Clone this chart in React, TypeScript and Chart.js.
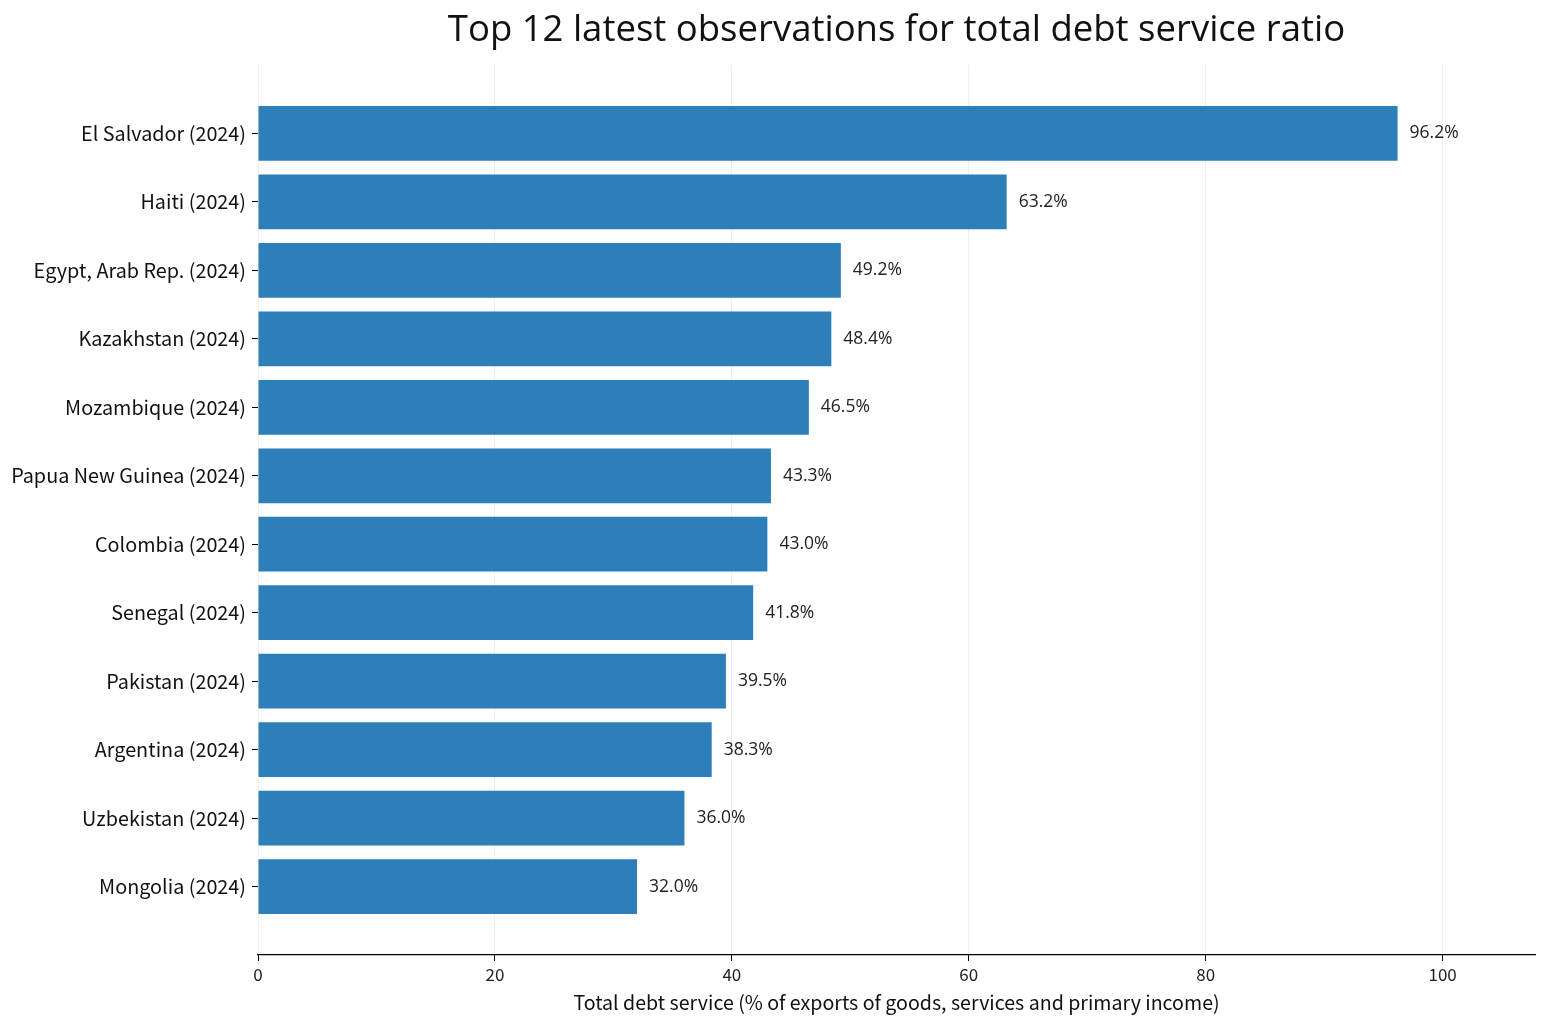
import React, { useEffect, useRef } from 'react'
import { Chart, registerables } from 'chart.js'

Chart.register(...registerables)

const countries = [
  'El Salvador (2024)',
  'Haiti (2024)',
  'Egypt, Arab Rep. (2024)',
  'Kazakhstan (2024)',
  'Mozambique (2024)',
  'Papua New Guinea (2024)',
  'Colombia (2024)',
  'Senegal (2024)',
  'Pakistan (2024)',
  'Argentina (2024)',
  'Uzbekistan (2024)',
  'Mongolia (2024)',
]
const debtService = [96.2, 63.2, 49.2, 48.4, 46.5, 43.3, 43.0, 41.8, 39.5, 38.3, 36.0, 32.0]
const xTicks = [0, 20, 40, 60, 80, 100]

const FONT = '"Noto Sans CJK KR", sans-serif'
const WIDE_FONT = '"Open Sans", sans-serif'

const valueLabels = {
  id: 'valueLabels',
  afterDatasetsDraw(chart: any) {
    const ctx = chart.ctx
    const meta = chart.getDatasetMeta(0)
    ctx.save()
    ctx.font = `17.5px ${WIDE_FONT}`
    ctx.fillStyle = '#222'
    ctx.textAlign = 'left'
    ctx.textBaseline = 'middle'
    meta.data.forEach((bar: any, i: number) => {
      ctx.fillText(debtService[i].toFixed(1) + '%', bar.x + 12, bar.y)
    })
    ctx.restore()
  },
}

const App: React.FC = () => {
  const canvasRef = useRef<HTMLCanvasElement>(null)
  const chartRef = useRef<Chart | null>(null)

  useEffect(() => {
    if (!canvasRef.current) return
    const ctx = canvasRef.current.getContext('2d')
    if (!ctx) return
    if (chartRef.current) chartRef.current.destroy()

    chartRef.current = new Chart(ctx, {
      type: 'bar',
      data: {
        datasets: [
          {
            data: debtService.map((v, i) => ({ x: v, y: i })),
            backgroundColor: '#2c7fb8',
            borderWidth: 0,
            barPercentage: 0.8,
            categoryPercentage: 1,
          },
        ],
      },
      options: {
        indexAxis: 'y',
        animation: false,
        responsive: true,
        maintainAspectRatio: false,
        layout: { padding: { left: 0, right: 12, top: 0, bottom: 0 } },
        plugins: {
          legend: { display: false },
          tooltip: { enabled: false },
          title: {
            display: true,
            text: 'Top 12 latest observations for total debt service ratio',
            fullSize: false,
            color: '#111',
            font: { family: WIDE_FONT, size: 36.5, weight: 'normal', lineHeight: 1.2 },
            padding: { top: 9, bottom: 12.2 },
          },
        },
        scales: {
          x: {
            type: 'linear',
            min: 0,
            max: 107.8,
            z: 1,
            afterBuildTicks: (scale: any) => {
              scale.ticks = xTicks.map(v => ({ value: v }))
            },
            afterFit: (scale: any) => {
              scale.height = 72
            },
            border: { display: true, color: '#000', width: 1.2 },
            grid: {
              color: 'rgba(176,176,176,0.2)',
              tickColor: '#000',
              tickLength: 6,
              lineWidth: 1,
            },
            ticks: {
              color: '#222',
              padding: 3,
              font: { family: FONT, size: 17 },
            },
            title: {
              display: true,
              text: 'Total debt service (% of exports of goods, services and primary income)',
              color: '#111',
              font: { family: FONT, size: 19.6 },
              padding: { top: 2, bottom: 13 },
            },
          },
          y: {
            type: 'linear',
            reverse: true,
            offset: false,
            min: -1,
            max: 12,
            afterBuildTicks: (scale: any) => {
              scale.ticks = countries.map((_, i) => ({ value: i }))
            },
            afterFit: (scale: any) => {
              scale.width = 258
            },
            border: { display: false },
            grid: {
              offset: false,
              drawOnChartArea: false,
              drawTicks: true,
              tickColor: '#000',
              tickLength: 6,
            },
            ticks: {
              color: '#111',
              padding: 6,
              font: { family: FONT, size: 19.8 },
              callback: (value: any) => countries[value as number] ?? '',
            },
          },
        },
      },
      plugins: [valueLabels],
    })

    return () => {
      if (chartRef.current) {
        chartRef.current.destroy()
        chartRef.current = null
      }
    }
  }, [])

  return (
    <div style={{ position: 'fixed', left: 0, top: 0, width: 1547, height: 1027, background: '#fff' }}>
      <canvas ref={canvasRef}></canvas>
    </div>
  )
}

export default App
